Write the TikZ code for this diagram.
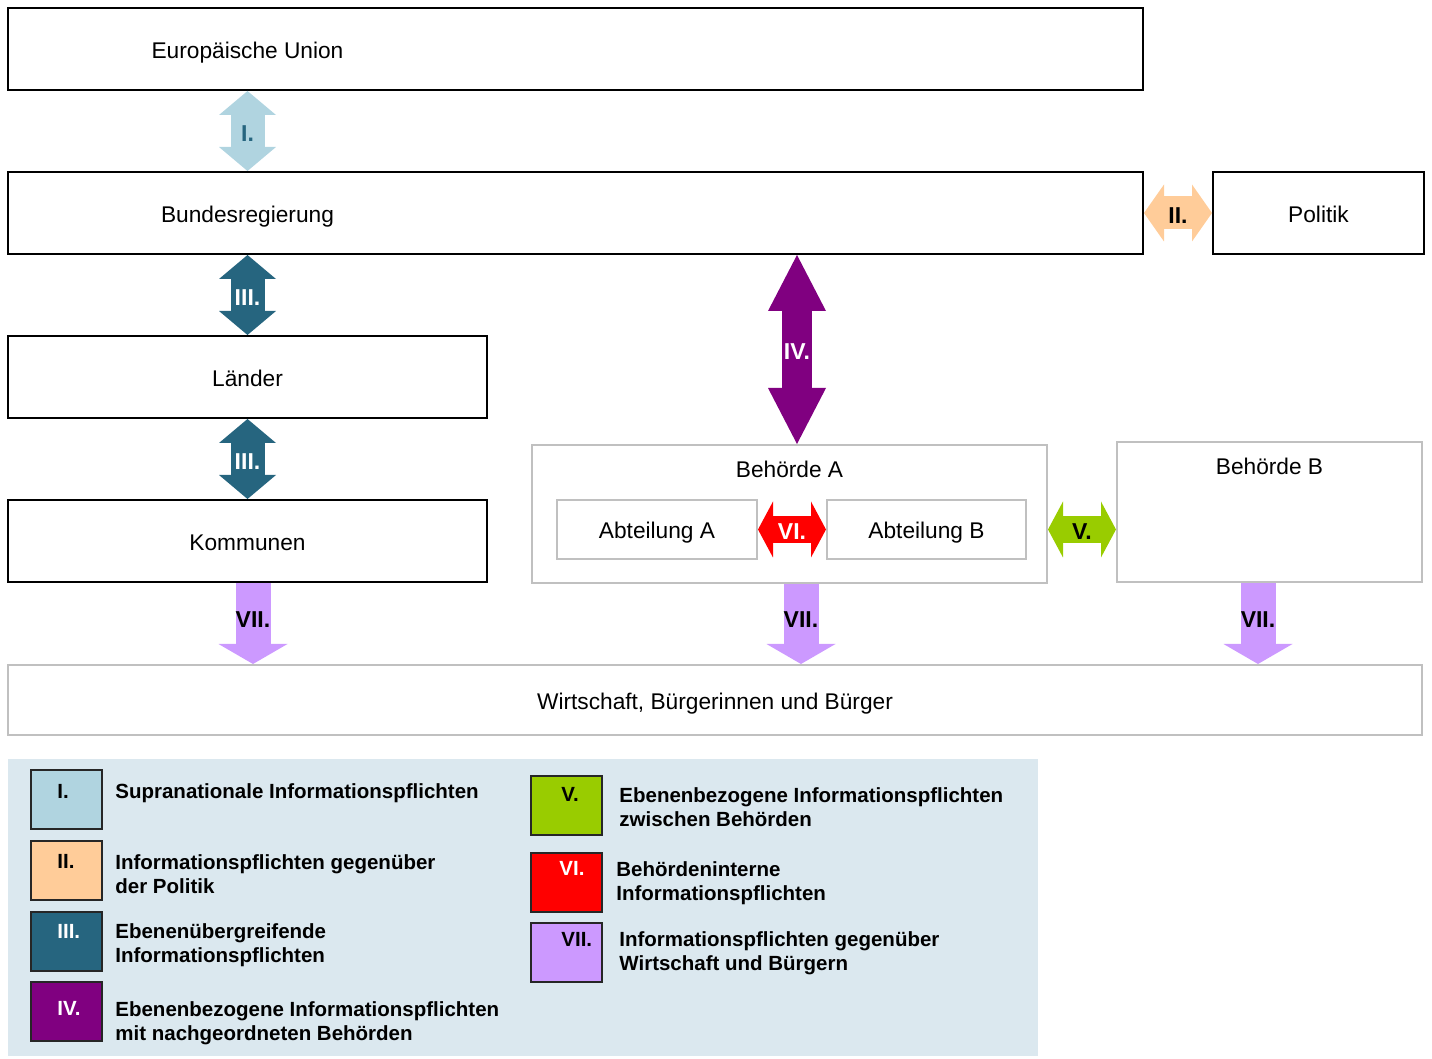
\documentclass[tikz,border=0pt]{standalone}
\usepackage{fontspec}
\setmainfont{Liberation Sans}
\usetikzlibrary{arrows.meta,positioning}

\definecolor{colI}{HTML}{B0D4E0}
\definecolor{colII}{HTML}{FFCC99}
\definecolor{colIII}{HTML}{26657F}
\definecolor{colIV}{HTML}{800080}
\definecolor{colV}{HTML}{99CC00}
\definecolor{colVI}{HTML}{FF0000}
\definecolor{colVII}{HTML}{CC99FF}
\definecolor{legbg}{HTML}{DBE8EF}
\definecolor{rahmen}{HTML}{C0C0C0}

\newcommand{\boxfont}{\fontsize{11.35}{13}\selectfont}
\newcommand{\pfeilfont}{\fontsize{11.5}{13}\selectfont\bfseries}
\newcommand{\legfont}{\fontsize{10.25}{12}\selectfont\bfseries}

\begin{document}
\begin{tikzpicture}[
    x=0.5pt, y=-0.5pt,
    every node/.style={font=\boxfont},
    boxtext/.style={text height=9.5pt, text depth=0pt},
    ebene/.style={rectangle, draw=black, line width=1pt, minimum height=41pt, boxtext},
    behoerde/.style={rectangle, draw=rahmen, line width=1pt, boxtext},
    titel/.style={inner sep=0pt, boxtext},
    nr/.style={font=\pfeilfont, inner sep=0pt, text height=10.2pt, text depth=0pt},
    pfeilI/.style={line width=17pt, <->, >={Triangle[length=12pt,width=28.5pt,line width=0pt]}},
    pfeilII/.style={line width=16.5pt, colII, text=black, <->, >={Triangle[length=10pt,width=28.5pt,line width=0pt]}},
    pfeilIV/.style={line width=15pt, colIV, text=white, <->, >={Triangle[length=28pt,width=29pt,line width=0pt]}},
    pfeilV/.style={line width=13.5pt, <->, >={Triangle[length=7.5pt,width=28pt,line width=0pt]}},
    pfeilVII/.style={line width=17.5pt, colVII, text=black, ->, >={Triangle[length=10pt,width=34.5pt,line width=0pt]}},
    legbox/.style={rectangle, draw=black!85, line width=1pt, minimum width=35.5pt, minimum height=29.5pt},
    legnr/.style={font=\legfont, anchor=north west, inner sep=0pt},
    legtext/.style={font=\legfont, align=left, inner sep=0pt}
]
\useasboundingbox (0,0) rectangle (1432,1059);

% EBENEN
\node[ebene, minimum width=567.5pt] (eu) at (575.5,49) {};
\node[ebene, minimum width=567.5pt] (bund) at (575.5,213) {};
\node[ebene, minimum width=105.5pt] (pol) at (1318.5,213) {Politik};
\node[ebene, minimum width=239.5pt] (lnd) at (247.5,377) {Länder};
\node[ebene, minimum width=239.5pt] (kom) at (247.5,541) {Kommunen};
\node[boxtext] (eutext) at (eu -| lnd) {Europäische Union};
\node[boxtext] (bundtext) at (bund -| lnd) {Bundesregierung};

% BEHOERDEN
\node[behoerde, minimum width=257.5pt, minimum height=69pt] (behA) at (789.5,514) {};
\node[titel, below=7pt of behA.north] (behAtitel) {Behörde A};
\node[behoerde, minimum width=100pt, minimum height=29.5pt] (abtA) at (657,529.5) {Abteilung A};
\node[behoerde, minimum width=99.5pt, minimum height=29.5pt] (abtB) at (926.5,529.5) {Abteilung B};
\node[behoerde, minimum width=152.5pt, minimum height=70pt] (behB) at (1269.5,512) {};
\node[titel, below=7pt of behB.north] (behBtitel) {Behörde B};
\node[behoerde, minimum width=707pt, minimum height=35pt] (wirt) at (715,700) {Wirtschaft, Bürgerinnen und Bürger};

% PFEILE
\draw[pfeilI, colI, text=colIII] (eu.south -| lnd) -- node[nr]{I.} (bund.north -| lnd);
\draw[pfeilII] (bund.east) -- node[nr]{II.} (pol.west);
\draw[pfeilI, colIII, text=white] (bund.south -| lnd) -- node[nr]{III.} (lnd.north);
\draw[pfeilI, colIII, text=white] (lnd.south) -- node[nr]{III.} (kom.north);
\coordinate (ivx) at (797,0);
\draw[pfeilIV] (bund.south -| ivx) -- node[nr]{IV.} (behA.north -| ivx);
\draw[pfeilV, colV, text=black] (behA.east |- abtB) -- node[nr]{V.} (behB.west |- abtB);
\draw[pfeilV, colVI, text=white] (abtA) -- node[nr]{VI.} (abtB);
\draw[pfeilVII] ([xshift=2.75pt]kom.south) -- node[nr, pos=0.42]{VII.} ([xshift=2.75pt]kom.south |- wirt.north);
\draw[pfeilVII] ([xshift=5.75pt]behA.south) -- node[nr, pos=0.42]{VII.} ([xshift=5.75pt]behA.south |- wirt.north);
\draw[pfeilVII] ([xshift=-5.75pt]behB.south) -- node[nr, pos=0.42]{VII.} ([xshift=-5.75pt]behB.south |- wirt.north);

% LEGENDE
\node[fill=legbg, minimum width=515pt, minimum height=148.5pt, inner sep=0pt] (legende) at (523,907.5) {};
\node[legbox, fill=colI, label={[legnr, xshift=13.5pt, yshift=-7.5pt]north west:I.}] (legI) at (66.5,799.5) {};
\node[legtext, below right=7pt and 6pt of legI.north east] (legItext) {Supranationale Informationspflichten};
\node[legbox, fill=colII, label={[legnr, xshift=13.5pt, yshift=-7pt]north west:II.}] (legII) at (66.5,870.5) {};
\node[legtext, below right=7pt and 6pt of legII.north east] (legIItext) {Informationspflichten gegenüber\\der Politik};
\node[legbox, fill=colIII, label={[legnr, text=white, xshift=13.5pt, yshift=-6.5pt]north west:III.}] (legIII) at (66.5,941) {};
\node[legtext, below right=6.5pt and 6pt of legIII.north east] (legIIItext) {Ebenenübergreifende\\Informationspflichten};
\node[legbox, fill=colIV, label={[legnr, text=white, xshift=13.5pt, yshift=-10pt]north west:IV.}] (legIV) at (66.5,1011.5) {};
\node[legtext, below right=10pt and 6pt of legIV.north east] (legIVtext) {Ebenenbezogene Informationspflichten\\mit nachgeordneten Behörden};
\node[legbox, fill=colV, label={[legnr, xshift=15.5pt, yshift=-6pt]north west:V.}] (legV) at (566.5,805.5) {};
\node[legtext, below right=6pt and 8pt of legV.north east] (legVtext) {Ebenenbezogene Informationspflichten\\zwischen Behörden};
\node[legbox, fill=colVI, label={[legnr, text=white, xshift=14.5pt, yshift=-4.5pt]north west:VI.}] (legVI) at (566.5,882.5) {};
\node[legtext, below right=4.5pt and 6.5pt of legVI.north east] (legVItext) {Behördeninterne\\Informationspflichten};
\node[legbox, fill=colVII, label={[legnr, xshift=15.5pt, yshift=-5pt]north west:VII.}] (legVII) at (566.5,952.5) {};
\node[legtext, below right=4.5pt and 8pt of legVII.north east] (legVIItext) {Informationspflichten gegenüber\\Wirtschaft und Bürgern};

\end{tikzpicture}
\end{document}
